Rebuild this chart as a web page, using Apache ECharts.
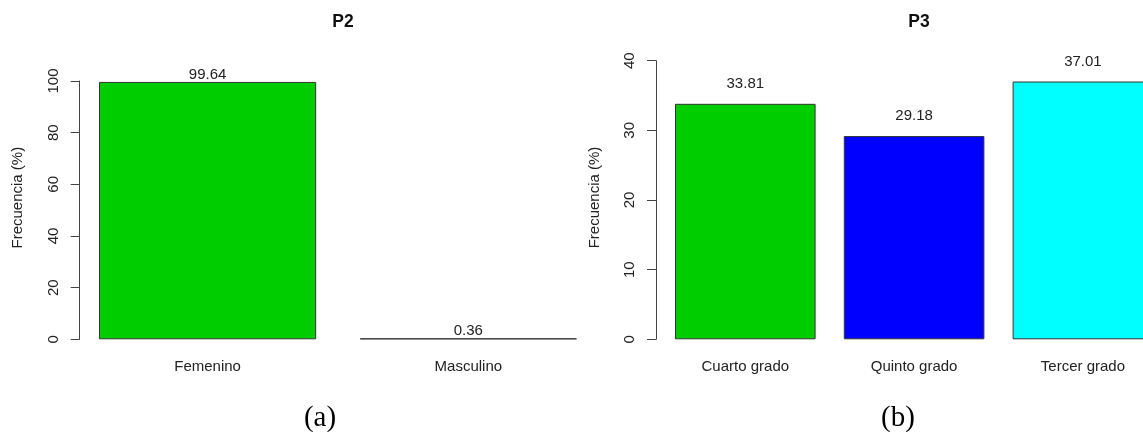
<!DOCTYPE html>
<html>
<head>
<meta charset="utf-8">
<script src="https://cdn.jsdelivr.net/npm/echarts@6/dist/echarts.min.js"></script>
<style>
html, body { margin: 0; padding: 0; background: #fff; }
#chart { width: 1143px; height: 432px; }
</style>
</head>
<body>
<div id="chart"></div>
<script>
// ---- data ----
const p2Title = 'P2';
const p2Categories = ['Femenino', 'Masculino'];
const p2Values = [99.64, 0.36];
const p2Colors = ['#00CD00', '#333333'];
const p2Ticks = [0, 20, 40, 60, 80, 100];

const p3Title = 'P3';
const p3Categories = ['Cuarto grado', 'Quinto grado', 'Tercer grado'];
const p3Values = [33.81, 29.18, 37.01];
const p3Colors = ['#00CD00', '#0000FF', '#00FFFF'];
const p3Ticks = [0, 10, 20, 30, 40];

const yAxisTitle = 'Frecuencia (%)';
const panelLabels = ['(a)', '(b)'];

// ---- chart ----
const FONT = '"Liberation Sans", Arial, Helvetica, sans-serif';
const SERIF = '"Liberation Serif", "Times New Roman", serif';
const TXT = '#222';

function yAxisCfg(gridIndex, ticks, offset, namePad, labelMargin) {
  return {
    type: 'value',
    gridIndex: gridIndex,
    min: ticks[0],
    max: ticks[ticks.length - 1],
    interval: ticks[1] - ticks[0],
    offset: offset,
    name: yAxisTitle,
    nameLocation: 'middle',
    nameGap: 54,
    nameTextStyle: { fontFamily: FONT, fontSize: 15, color: TXT, padding: [0, 0, 0, namePad] },
    axisLine: { show: true, lineStyle: { color: '#444', width: 1 } },
    axisTick: { show: true, length: 9, lineStyle: { color: '#444', width: 1 } },
    axisLabel: { rotate: 90, margin: labelMargin, fontFamily: FONT, fontSize: 15, color: TXT },
    splitLine: { show: false }
  };
}

function xAxisCfg(gridIndex, cats) {
  return {
    type: 'category',
    gridIndex: gridIndex,
    data: cats,
    axisLine: { show: false },
    axisTick: { show: false },
    axisLabel: { margin: 20, fontFamily: FONT, fontSize: 15, color: TXT, interval: 0 }
  };
}

function barSeries(idx, values, colors, dist) {
  return {
    type: 'bar',
    xAxisIndex: idx,
    yAxisIndex: idx,
    barCategoryGap: '16.7%',
    data: values.map((v, i) => ({
      value: v,
      itemStyle: { color: colors[i], borderColor: '#333', borderWidth: 1 }
    })),
    label: {
      show: true,
      position: 'top',
      distance: dist,
      fontFamily: FONT,
      fontSize: 15,
      color: TXT,
      formatter: p => String(p.value)
    },
    silent: true
  };
}

const chart = echarts.init(document.getElementById('chart'), null, { renderer: 'canvas' });
chart.setOption({
  backgroundColor: '#fff',
  animation: false,
  title: [
    { text: p2Title, left: 338, top: 8, textAlign: 'center',
      textStyle: { fontFamily: FONT, fontSize: 17.5, fontWeight: 'bold', color: '#111' } },
    { text: p3Title, left: 914, top: 8, textAlign: 'center',
      textStyle: { fontFamily: FONT, fontSize: 17.5, fontWeight: 'bold', color: '#111' } },
    { text: panelLabels[0], left: 315, top: 399, textAlign: 'center',
      textStyle: { fontFamily: SERIF, fontSize: 29, fontWeight: 'normal', color: '#000' } },
    { text: panelLabels[1], left: 893, top: 399, textAlign: 'center',
      textStyle: { fontFamily: SERIF, fontSize: 29, fontWeight: 'normal', color: '#000' } }
  ],
  grid: [
    { left: 77.2, top: 81, width: 521.5, height: 258.3, outerBoundsMode: 'none', containLabel: false },
    { left: 660.9, top: 60.7, width: 506.4, height: 278.6, outerBoundsMode: 'none', containLabel: false }
  ],
  xAxis: [xAxisCfg(0, p2Categories), xAxisCfg(1, p3Categories)],
  yAxis: [yAxisCfg(0, p2Ticks, -2.5, 25, 18), yAxisCfg(1, p3Ticks, 4.9, 5, 19)],
  series: [barSeries(0, p2Values, p2Colors, 0), barSeries(1, p3Values, p3Colors, 12.5)]
});
</script>
</body>
</html>
